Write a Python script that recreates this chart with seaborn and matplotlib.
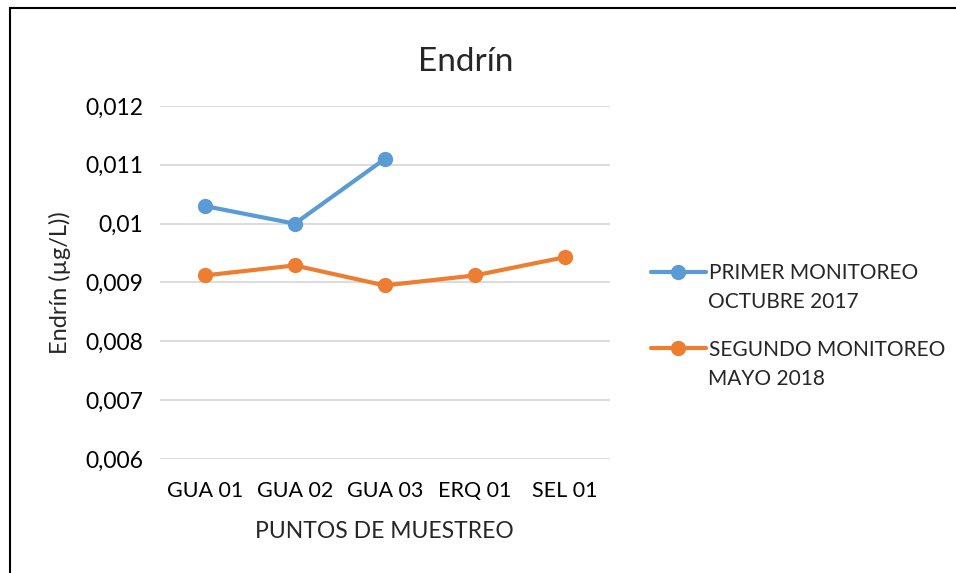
import pandas as pd
import matplotlib.pyplot as plt
import seaborn as sns
from matplotlib.patches import Rectangle
from matplotlib.ticker import FuncFormatter

puntos = ["GUA 01", "GUA 02", "GUA 03", "ERQ 01", "SEL 01"]
primer = [0.01030, 0.01000, 0.01110, None, None]
segundo = [0.00912, 0.00929, 0.00895, 0.00912, 0.00943]
series_first = ["PRIMER MONITOREO", "SEGUNDO MONITOREO"]
series_second = ["OCTUBRE 2017", "MAYO 2018"]
colors = ["#5B9BD5", "#ED7D31"]

df = pd.DataFrame({
    "punto": puntos * 2,
    "valor": primer + segundo,
    "serie": [series_first[0]] * 5 + [series_first[1]] * 5,
})

sns.set_style("white")
plt.rcParams["font.family"] = ["Lato", "DejaVu Sans"]

fig = plt.figure(figsize=(9.56, 5.73), dpi=100)
ax = fig.add_axes([0.167, 0.199, 0.471, 0.616])

sns.lineplot(data=df, x="punto", y="valor", hue="serie", palette=colors,
             sort=False, marker="o", markersize=11, markeredgewidth=0,
             linewidth=3, ax=ax)

ax.set_xlim(-0.5, 4.5)
ax.set_ylim(0.006, 0.012)
ax.set_yticks([0.006, 0.007, 0.008, 0.009, 0.010, 0.011, 0.012])
ax.yaxis.set_major_formatter(FuncFormatter(
    lambda v, p: ("%g" % round(v, 4)).replace(".", ",")))
ax.grid(axis="y", color="#D9D9D9", linewidth=1.3)
ax.set_axisbelow(True)
for s in ax.spines.values():
    s.set_visible(False)
ax.tick_params(axis="x", length=0, labelsize=15.5, pad=16, colors="black")
ax.tick_params(axis="y", length=0, labelsize=16.5, pad=12, colors="black")

fig.text(0.487, 0.892, "Endrín", fontsize=24, ha="center", va="center")
ax.set_xlabel("PUNTOS DE MUESTREO", fontsize=16.5, labelpad=14)
ax.set_ylabel("Endrín (µg/L))", fontsize=17, labelpad=10)

handles, labels = ax.get_legend_handles_labels()
ax.legend_.remove()
fig.legend(handles, labels, loc="center left", bbox_to_anchor=(0.661, 0.4564),
           frameon=False, fontsize=15, handlelength=2.65, handletextpad=0.15,
           labelspacing=2.7)
for txt, y in zip(series_second, [302, 379]):
    fig.text(708 / 956, 1 - y / 573, txt, fontsize=15, va="center", ha="left")

fig.patches.append(Rectangle((0.010, -0.01), 1.0, 0.996, transform=fig.transFigure,
                             fill=False, edgecolor="black", linewidth=1.5))

fig.savefig("out.png", dpi=100)
